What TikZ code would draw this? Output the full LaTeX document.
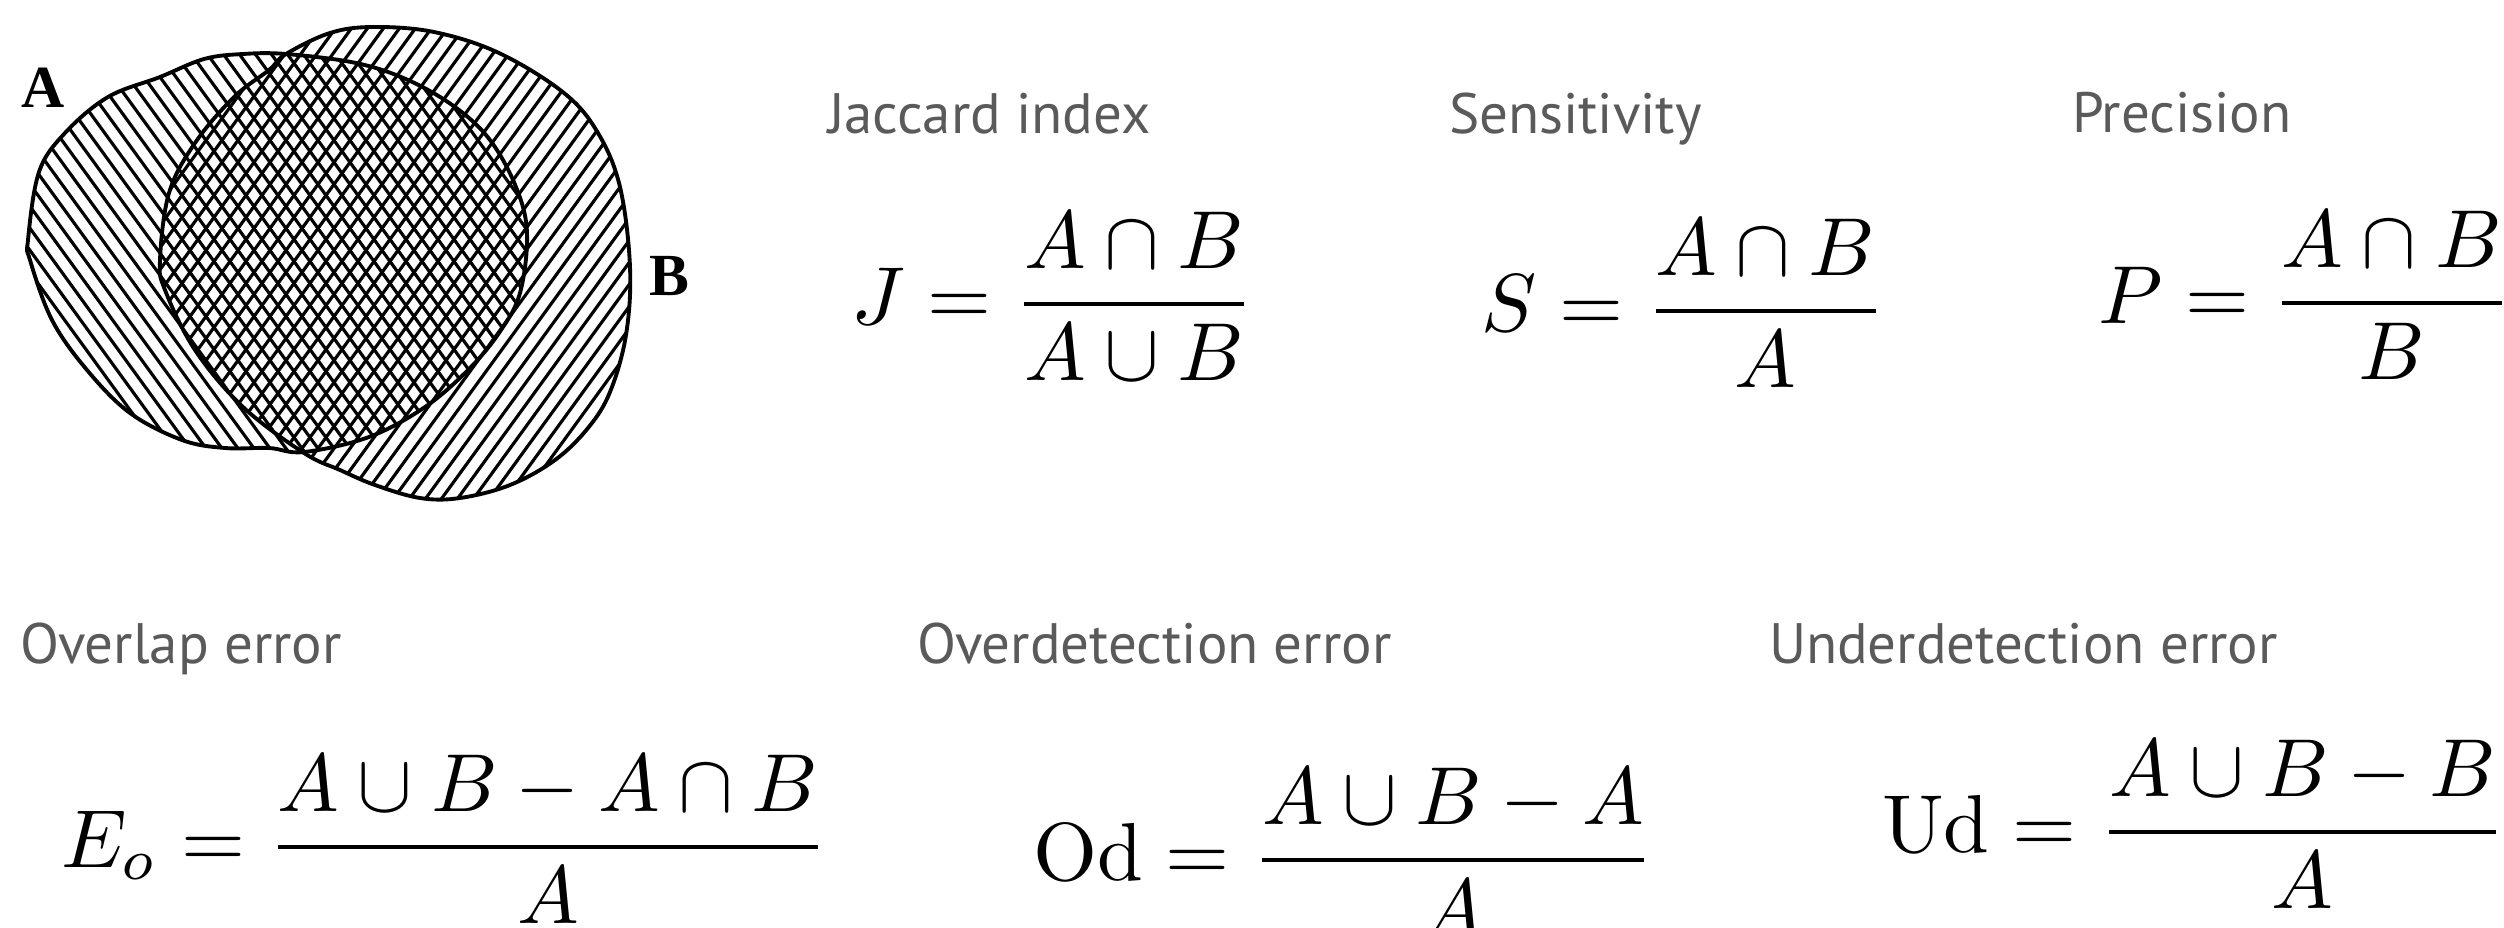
\documentclass[tikz,border=0pt]{standalone}
\usepackage{amsmath}
\usepackage{graphicx}
\usepackage{fontspec}
\newfontfamily\labelfont{PT Sans}
\newfontfamily\setfont{Liberation Serif}
\definecolor{labelgray}{RGB}{90,90,90}

% formulas are set at 10pt and enlarged
\newcommand\bigformula[1]{\scalebox{2.34}{$\displaystyle #1$}}

% outlines of the two sets, in pixel units
\newcommand\blobA{plot[smooth cycle,tension=0.6] coordinates {
  (28,240) (39,172) (65,133) (108,97) (160,77) (204,59) (243,54) (286,54)
  (356,63) (408,80) (455,107) (490,140) (516,187) (527,233) (520,293)
  (499,333) (468,370) (425,407) (369,437) (304,452) (269,448) (225,448)
  (182,440) (130,413) (87,370) (52,320) (30,260)}}
\newcommand\blobB{plot[smooth cycle,tension=0.6] coordinates {
  (286,54) (330,33) (373,27) (434,32) (499,53) (564,93) (598,133)
  (620,187) (630,267) (626,335) (610,392) (588,428) (555,460) (510,485)
  (460,498) (420,498) (375,485) (340,470) (304,453) (243,407) (195,350)
  (165,290) (160,260) (169,193) (195,143) (234,97) (269,70)}}

\begin{document}
\begin{tikzpicture}[
  x=0.01cm, y=-0.01cm,
  every node/.style={inner sep=0pt,outer sep=0pt},
  caption/.style={anchor=base west,text=labelgray,
                  font={\labelfont\fontsize{16.2}{19}\selectfont}},
  formula/.style={anchor=base west},
  setname/.style={font={\setfont\bfseries\fontsize{17}{20}\selectfont}},
  outline/.style={line width=1.1pt,line join=round},
  hatch/.style={line width=0.9pt},
]
  \useasboundingbox (0,0) rectangle (2504,927);

  % Hatching of set A
  \begin{scope}
    \clip \blobA;
    \foreach \k in {0,...,57}
      \draw[hatch] (-360+\k*16,0) -- ++(378,520);
  \end{scope}

  % Hatching of set B
  \begin{scope}
    \clip \blobB;
    \foreach \k in {0,...,56}
      \draw[hatch] (-230+\k*16,520) -- ++(378,-520);
  \end{scope}

  % Set outlines
  \draw[outline] \blobA;
  \draw[outline] \blobB;

  \node[setname] (labA) at (43,88) {A};
  \node[setname] (labB) at (669,276) {B};

  % Top row
  \node[caption] (jac) at (828,133) {Jaccard index};
  \node[caption] (sens) at (1449,133) {Sensitivity};
  \node[caption] (prec) at (2072,132) {Precision};

  \node[formula] (fJ) at (851,324.5) {\bigformula{J = \dfrac{A \cap B}{A \cup B}}};
  \node[formula] (fS) at (1481,331.5) {\bigformula{S = \dfrac{A \cap B}{A}}};
  \node[formula] (fP) at (2098,323.5) {\bigformula{P = \dfrac{A \cap B}{B}}};

  % Bottom row
  \node[caption] (ovl) at (20,663) {Overlap error};
  \node[caption] (ovd) at (917,663) {Overdetection error};
  \node[caption] (und) at (1769,663) {Underdetection error};

  \node[formula] (fEo) at (61,867.5) {\bigformula{E_o = \dfrac{A \cup B - A \cap B}{A}}};
  \node[formula] (fOd) at (1033,880.5) {\bigformula{\mathrm{Od} = \dfrac{A \cup B - A}{A}}};
  \node[formula] (fUd) at (1882,852.5) {\bigformula{\mathrm{Ud} = \dfrac{A \cup B - B}{A}}};
\end{tikzpicture}
\end{document}
